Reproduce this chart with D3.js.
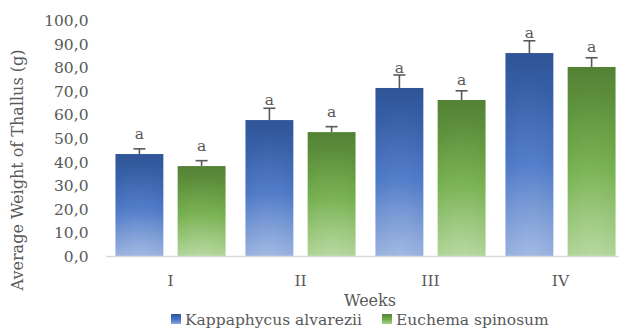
<!DOCTYPE html>
<html>
<head>
<meta charset="utf-8">
<script src="https://cdn.jsdelivr.net/npm/d3@7"></script>
<style>
  html, body { margin: 0; padding: 0; background: #fff; }
  svg text { font-family: "DejaVu Serif", "Liberation Serif", serif; fill: #595959; }
</style>
</head>
<body>
<svg id="chart" width="619" height="329"></svg>
<script>
// Weekly average thallus weight (g) for two seaweed species
const weeks = ["I", "II", "III", "IV"];
const seriesNames = ["Kappaphycus alvarezii", "Euchema spinosum"];
const kappaphycus = [43.2, 57.6, 71.2, 86.0];
const euchema = [38.1, 52.5, 66.1, 80.1];
const kappaphycusErr = [2.2, 5.0, 5.5, 5.2];
const euchemaErr = [2.3, 2.3, 3.9, 3.9];
const groupLabels = ["a", "a", "a", "a"];
const yTicks = [0, 10, 20, 30, 40, 50, 60, 70, 80, 90, 100];

const svg = d3.select("#chart");
const plot = { left: 105.5, right: 625.5, top: 20, bottom: 256 };

const x = d3.scaleBand().domain(weeks).range([plot.left, plot.right]).paddingInner(0).paddingOuter(0);
const x1 = d3.scaleBand().domain(seriesNames).range([0, x.bandwidth()]).paddingInner(0.23).paddingOuter(0.16);
const y = d3.scaleLinear().domain([0, 100]).range([plot.bottom, plot.top]);

// Vertical gradients: dark shade at the top, base colour, light tint at the bottom
const defs = svg.append("defs");
const palettes = [
  ["#2f5597", "#4472c4", "#8faadc"],
  ["#538135", "#70ad47", "#a9d18e"]
];
palettes.forEach((p, i) => {
  const g = defs.append("linearGradient").attr("id", "grad" + i)
    .attr("x1", 0).attr("y1", 0).attr("x2", 0).attr("y2", 1);
  g.append("stop").attr("offset", "0%").attr("stop-color", p[0]);
  g.append("stop").attr("offset", "55%").attr("stop-color", p[1]);
  g.append("stop").attr("offset", "100%").attr("stop-color", p[2]);
  const r = defs.append("radialGradient").attr("id", "glow" + i)
    .attr("cx", 0.5).attr("cy", 1).attr("r", 0.9).attr("fx", 0.5).attr("fy", 1);
  r.append("stop").attr("offset", "0%").attr("stop-color", "#fff").attr("stop-opacity", 0.18);
  r.append("stop").attr("offset", "100%").attr("stop-color", "#fff").attr("stop-opacity", 0);
});

// Y axis tick labels (no axis line, no gridlines)
const yAxis = d3.axisLeft(y).tickValues(yTicks).tickSize(0).tickPadding(0)
  .tickFormat(d => d3.format(".1f")(d).replace(".", ","));
const yg = svg.append("g").attr("transform", `translate(${plot.left - 17},0)`).call(yAxis);
yg.select(".domain").remove();
yg.selectAll("text").style("font-size", "15.5px").style("font-family", "DejaVu Serif").attr("fill", "#595959").attr("dy", "0.35em");

// Bars
const series = [
  { name: seriesNames[0], values: kappaphycus, errs: kappaphycusErr },
  { name: seriesNames[1], values: euchema, errs: euchemaErr }
];
series.forEach((s, si) => {
  const g = svg.append("g");
  weeks.forEach((w, i) => {
    const bx = x(w) + x1(s.name);
    const bw = x1.bandwidth();
    const top = y(s.values[i]);
    g.append("rect").attr("x", bx).attr("y", top).attr("width", bw)
      .attr("height", y(0) - top).attr("fill", `url(#grad${si})`);
    g.append("rect").attr("x", bx).attr("y", top).attr("width", bw)
      .attr("height", y(0) - top).attr("fill", `url(#glow${si})`);
    // error bar (upper only)
    const cx = bx + bw / 2;
    const et = y(s.values[i] + s.errs[i]);
    g.append("line").attr("x1", cx).attr("x2", cx).attr("y1", top).attr("y2", et)
      .attr("stroke", "#595959").attr("stroke-width", 1.6);
    g.append("line").attr("x1", cx - 6).attr("x2", cx + 6).attr("y1", et).attr("y2", et)
      .attr("stroke", "#595959").attr("stroke-width", 1.6);
    // significance letter
    g.append("text").attr("x", cx).attr("y", top - 15)
      .attr("text-anchor", "middle").style("font-size", "15.5px").text(groupLabels[i]);
  });
});

// Category axis
const xAxis = d3.axisBottom(x).tickSize(0).tickPadding(0);
const xg = svg.append("g").attr("transform", `translate(0,${plot.bottom})`).call(xAxis);
xg.select(".domain").attr("stroke", "#d9d9d9").attr("stroke-width", 1.5);
xg.selectAll("text").style("font-size", "15.5px").style("font-family", "DejaVu Serif")
  .attr("fill", "#595959").attr("y", 30).attr("dy", "0");

// Axis titles
svg.append("text").attr("x", 370).attr("y", 306).attr("text-anchor", "middle")
  .style("font-size", "16px").text("Weeks");
svg.append("text").attr("transform", "translate(23,170) rotate(-90)")
  .attr("text-anchor", "middle").style("font-size", "16px").text("Average Weight of Thallus (g)");

// Legend
const legend = svg.append("g");
const legendX = [171, 382];
series.forEach((s, si) => {
  legend.append("rect").attr("x", legendX[si]).attr("y", 314).attr("width", 10).attr("height", 10)
    .attr("fill", `url(#grad${si})`);
  legend.append("text").attr("x", legendX[si] + 14).attr("y", 324.5)
    .style("font-size", "15.5px").text(s.name);
});
</script>
</body>
</html>
